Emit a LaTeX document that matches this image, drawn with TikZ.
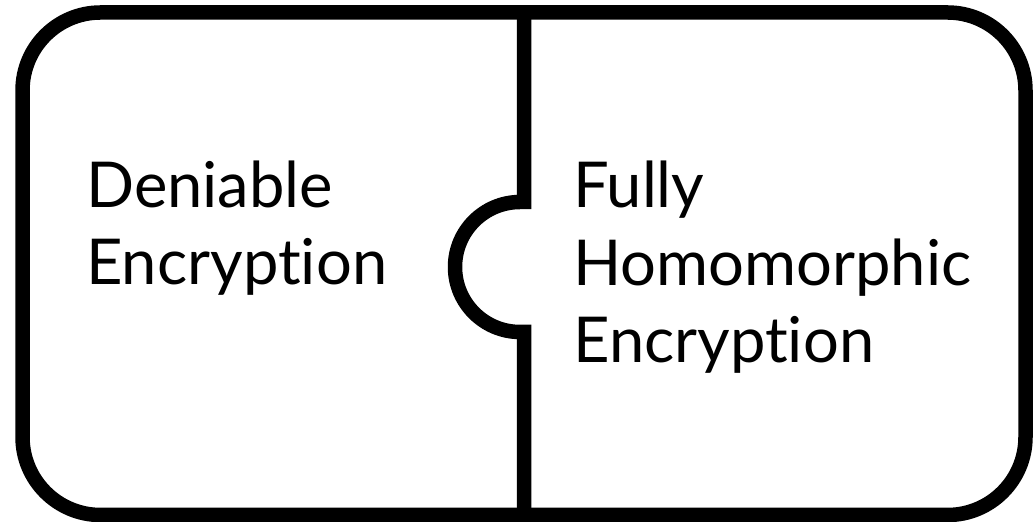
\documentclass[tikz,border=0pt]{standalone}
\usepackage{fontspec}
\setmainfont{Lato}[Ligatures=NoCommon]
\begin{document}
\begin{tikzpicture}[x=1bp, y=1bp, line width=14.5bp,
		piecetext/.style={align=left, inner sep=0pt, anchor=base west, font=\fontsize{63.5}{78}\selectfont}]
		\useasboundingbox (0,0) rectangle (1033,522);
		
		\draw[rounded corners=78bp] (22.5,7) rectangle (1025.5,509.5);
		\draw (524,509.5) -- (524,320) -- (520,320) arc[start angle=90, end angle=270, radius=65bp] -- (524,190) -- (524,7);
		
		\node (deniable) [piecetext] at (79,237) {Deniable\\Encryption};
		\node (fhe) [piecetext] at (566,159) {Fully\\Homomorphic\\Encryption};
	\end{tikzpicture}
\end{document}
